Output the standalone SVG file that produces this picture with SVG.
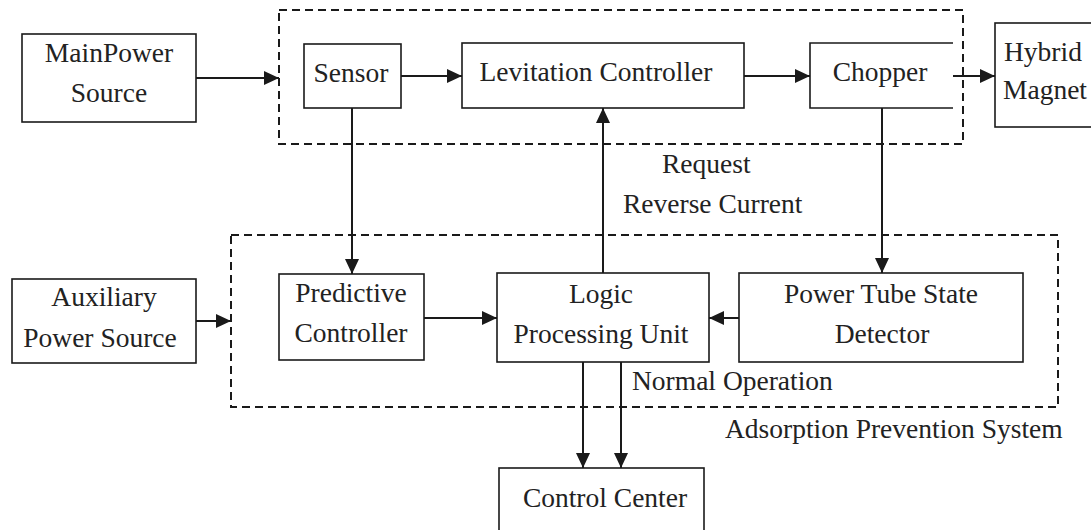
<svg xmlns="http://www.w3.org/2000/svg" width="1091" height="530" viewBox="0 0 1091 530">
  <defs>
    <marker id="arrow" markerUnits="userSpaceOnUse" markerWidth="15" markerHeight="14" refX="15" refY="7" orient="auto">
      <path d="M0,0 L15,7 L0,14 z" fill="#1a1a1a"/>
    </marker>
    <style>
      .box { fill: #fff; stroke: #1a1a1a; stroke-width: 1.6; }
      .open { fill: none; stroke: #1a1a1a; stroke-width: 1.6; }
      .group { fill: none; stroke: #1a1a1a; stroke-width: 2; stroke-dasharray: 8 5; }
      .wire { fill: none; stroke: #1a1a1a; stroke-width: 2; }
      .arrow { marker-end: url(#arrow); }
      text { font-family: "Liberation Serif", "Times New Roman", serif; font-size: 27.5px; fill: #222; }
      .c { text-anchor: middle; }
    </style>
  </defs>
  <rect width="1091" height="530" fill="#fff"/>

  <!-- subsystem frames -->
  <g id="levitation-system">
    <rect class="group" x="279" y="10" width="684" height="134"/>
  </g>
  <g id="adsorption-prevention-system">
    <rect class="group" x="231" y="235" width="827" height="172"/>
    <text x="725" y="438">Adsorption Prevention System</text>
  </g>

  <!-- connectors -->
  <g id="connectors">
    <line class="wire arrow" x1="196" y1="78" x2="279" y2="78"/>
    <line class="wire arrow" x1="401" y1="76" x2="462" y2="76"/>
    <line class="wire arrow" x1="744" y1="76" x2="810" y2="76"/>
    <line class="wire arrow" x1="953" y1="76" x2="995" y2="76"/>
    <line class="wire arrow" x1="352" y1="108" x2="352" y2="274"/>
    <line class="wire arrow" x1="882" y1="108" x2="882" y2="273"/>
    <line class="wire arrow" x1="603" y1="273" x2="603" y2="108"/>
    <line class="wire arrow" x1="196" y1="321" x2="231" y2="321"/>
    <line class="wire arrow" x1="424" y1="318" x2="497" y2="318"/>
    <line class="wire arrow" x1="739" y1="318" x2="709" y2="318"/>
    <line class="wire arrow" x1="583" y1="362" x2="583" y2="468"/>
    <line class="wire arrow" x1="621" y1="362" x2="621" y2="468"/>
    <text x="662" y="173">Request</text>
    <text x="623" y="213">Reverse Current</text>
    <text x="632" y="390">Normal Operation</text>
  </g>

  <!-- nodes -->
  <g id="main-power-source">
    <rect class="box" x="22" y="34" width="174" height="88"/>
    <text class="c" x="109" y="62">MainPower</text>
    <text class="c" x="109" y="102">Source</text>
  </g>
  <g id="sensor">
    <rect class="box" x="304" y="44" width="97" height="64"/>
    <text class="c" x="351" y="82">Sensor</text>
  </g>
  <g id="levitation-controller">
    <rect class="box" x="462" y="43" width="282" height="65"/>
    <text class="c" x="596" y="81">Levitation Controller</text>
  </g>
  <g id="chopper">
    <path class="open" d="M953,43 H810 V108 H953"/>
    <text class="c" x="880" y="81">Chopper</text>
  </g>
  <g id="hybrid-magnet">
    <rect class="box" x="995" y="23" width="110" height="104"/>
    <text x="1004" y="61">Hybrid</text>
    <text x="1003" y="99">Magnet</text>
  </g>
  <g id="auxiliary-power-source">
    <rect class="box" x="12" y="279" width="184" height="84"/>
    <text class="c" x="104" y="306">Auxiliary</text>
    <text class="c" x="100" y="347">Power Source</text>
  </g>
  <g id="predictive-controller">
    <rect class="box" x="279" y="274" width="145" height="86"/>
    <text class="c" x="351" y="302">Predictive</text>
    <text class="c" x="351" y="342">Controller</text>
  </g>
  <g id="logic-processing-unit">
    <rect class="box" x="497" y="273" width="212" height="89"/>
    <text class="c" x="601" y="303">Logic</text>
    <text class="c" x="601" y="343">Processing Unit</text>
  </g>
  <g id="power-tube-state-detector">
    <rect class="box" x="739" y="273" width="284" height="89"/>
    <text class="c" x="881" y="303">Power Tube State</text>
    <text class="c" x="882" y="343">Detector</text>
  </g>
  <g id="control-center">
    <rect class="box" x="499" y="468" width="205" height="80"/>
    <text class="c" x="605" y="507">Control Center</text>
  </g>
</svg>
